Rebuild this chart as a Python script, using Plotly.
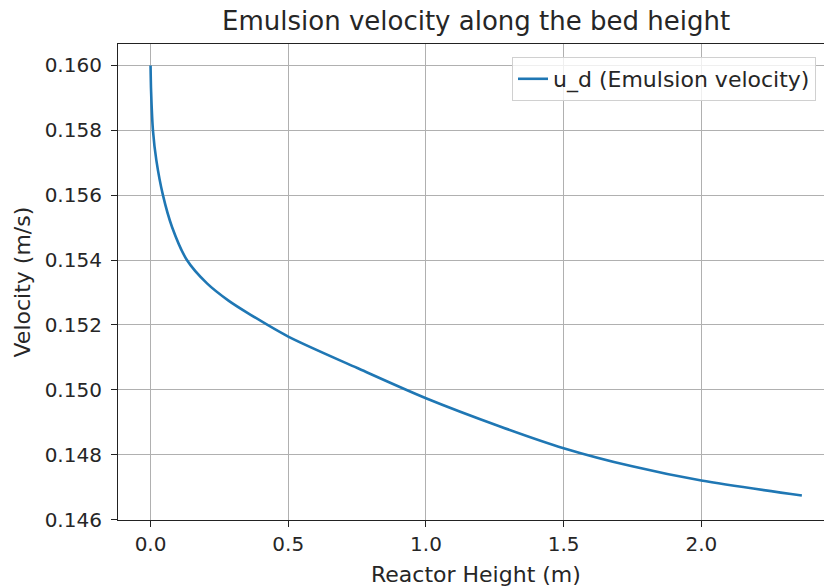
import plotly.graph_objects as go

# Data
height_m = [0.0, 0.002, 0.0087, 0.021, 0.045, 0.078, 0.132, 0.205, 0.283,
            0.362, 0.5, 0.751, 1.0, 1.269, 1.5, 1.749, 2.0, 2.365]
velocity = [0.1600, 0.1592, 0.1580, 0.15708, 0.1560, 0.15502, 0.1540, 0.15328,
            0.15275, 0.15232, 0.15164, 0.15067, 0.14974, 0.14887,
            0.14820, 0.14764, 0.14720, 0.14674]
x_ticks = [0.0, 0.5, 1.0, 1.5, 2.0]
x_tick_labels = ["0.0", "0.5", "1.0", "1.5", "2.0"]
y_ticks = [0.146, 0.148, 0.150, 0.152, 0.154, 0.156, 0.158, 0.160]
y_tick_labels = ["0.146", "0.148", "0.150", "0.152", "0.154", "0.156", "0.158", "0.160"]

FONT = "DejaVu Sans"
TXT = "#262626"

fig = go.Figure()
fig.add_trace(go.Scatter(
    x=height_m, y=velocity, mode="lines",
    name="u_d (Emulsion velocity)",
    line=dict(color="#1f77b4", width=2.6, shape="spline", smoothing=0.8),
))

fig.update_layout(
    width=824, height=588,
    margin=dict(l=118, r=0, t=44, b=68),
    paper_bgcolor="white", plot_bgcolor="white",
    font=dict(family=FONT, size=20, color=TXT),
    showlegend=True,
    legend=dict(
        x=0.9887, y=0.9727, xanchor="right", yanchor="top",
        bgcolor="rgba(255,255,255,0.8)", bordercolor="#d0d0d0", borderwidth=1,
        font=dict(family=FONT, size=22, color=TXT),
    ),
    xaxis=dict(
        range=[-0.1182, 2.4454], tickmode="array", tickvals=x_ticks, ticktext=x_tick_labels,
        showgrid=True, gridcolor="#b0b0b0", gridwidth=1,
        showline=True, linecolor="#222", linewidth=1.2, mirror=True,
        ticks="outside", ticklen=6, tickcolor="#222", tickwidth=1.2,
        tickfont=dict(family=FONT, size=20, color=TXT),
        zeroline=False,
    ),
    yaxis=dict(
        range=[0.145985, 0.16066], tickmode="array", tickvals=y_ticks, ticktext=y_tick_labels,
        showgrid=True, gridcolor="#b0b0b0", gridwidth=1,
        showline=True, linecolor="#222", linewidth=1.2, mirror=False,
        ticks="outside", ticklen=6, tickcolor="#222", tickwidth=1.2,
        tickfont=dict(family=FONT, size=20, color=TXT),
        ticklabelstandoff=5,
        zeroline=False,
    ),
    annotations=[
        dict(text="Emulsion velocity along the bed height", xref="paper", yref="paper",
             x=(476 - 118) / (824 - 118), y=1, yshift=6, xanchor="center", yanchor="bottom",
             showarrow=False, font=dict(family=FONT, size=26, color=TXT)),
        dict(text="Reactor Height (m)", xref="paper", yref="paper",
             x=(476 - 118) / (824 - 118), y=0, yshift=-40, xanchor="center", yanchor="top",
             showarrow=False, font=dict(family=FONT, size=22, color=TXT)),
        dict(text="Velocity (m/s)", xref="paper", yref="paper",
             x=0, xshift=-111, y=0.5, xanchor="left", yanchor="middle", textangle=-90,
             showarrow=False, font=dict(family=FONT, size=22, color=TXT)),
    ],
)

fig.write_html("out.html")
